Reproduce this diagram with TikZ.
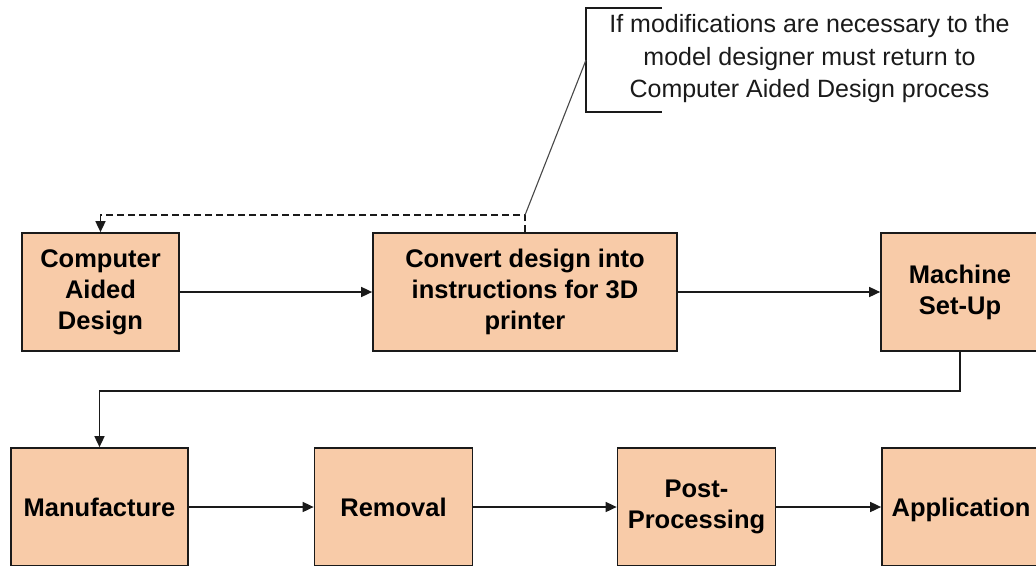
\documentclass[tikz,border=0pt]{standalone}
\usepackage{fontspec}
\setmainfont{Liberation Sans}
\usetikzlibrary{arrows.meta}
\definecolor{peach}{HTML}{F8CBA8}
\definecolor{ink}{HTML}{1A1A1A}
\tikzset{
  stage/.style={draw=ink, line width=1.7pt, fill=peach, inner sep=0pt,
    minimum width=158pt, minimum height=118pt, align=center,
    font=\bfseries\fontsize{25.5}{31}\selectfont},
  flow/.style={draw=ink, line width=1.6pt, -{Triangle[length=11pt,width=10pt]}},
  loopback/.style={flow, dash pattern=on 7pt off 4pt},
  note/.style={align=center, inner sep=0pt, font=\fontsize{25}{32.5}\selectfont, text=ink},
  bracket/.style={draw=ink, line width=1.7pt},
  leader/.style={draw=ink!80, line width=1.1pt}
}
\begin{document}
\begin{tikzpicture}[x=1pt, y=-1pt]
  \clip (0,0) rectangle (1036,565);
  \fill[white] (0,0) rectangle (1036,565);

  % process stages, first row
  \node[stage, minimum width=157pt] (cad)  at (100.5,292) {Computer\\Aided\\Design};
  \node[stage, minimum width=304pt] (conv) at (525,292)   {Convert design into\\instructions for 3D\\printer};
  \node[stage] (mach) at (960,292) {Machine\\Set-Up};

  % process stages, second row
  \node[stage, minimum width=177pt] (manu) at (99.5,507) {Manufacture};
  \node[stage] (remo) at (393.5,507) {Removal};
  \node[stage] (post) at (696.5,507) {Post-\\Processing};
  \node[stage, text depth=0pt] (appl) at (961,507) {Application};

  % forward flow
  \draw[flow] (cad.east) -- (conv.west);
  \draw[flow] (conv.east) -- (mach.west);
  \draw[flow] (mach.south) -- ++(0,39) -| (manu.north);
  \draw[flow] (manu.east) -- (remo.west);
  \draw[flow] (remo.east) -- (post.west);
  \draw[flow] (post.east) -- (appl.west);

  % return path for design changes (yshift is in page units, up is positive)
  \coordinate (bend) at ([yshift=17pt]conv.north);
  \draw[loopback] (conv.north) -- (bend) -| (cad.north);

  % annotation with leader line
  \node[note] (txt) at (809.5,59) {If modifications are necessary to the\\model designer must return to\\Computer Aided Design process};
  \coordinate (btop) at (662,8);
  \coordinate (bbot) at (662,112);
  \coordinate (bmid) at (586,60);
  \draw[bracket] (btop) -- (586,8) -- (586,112) -- (bbot);
  \draw[leader] (bend) -- (bmid);
\end{tikzpicture}
\end{document}
